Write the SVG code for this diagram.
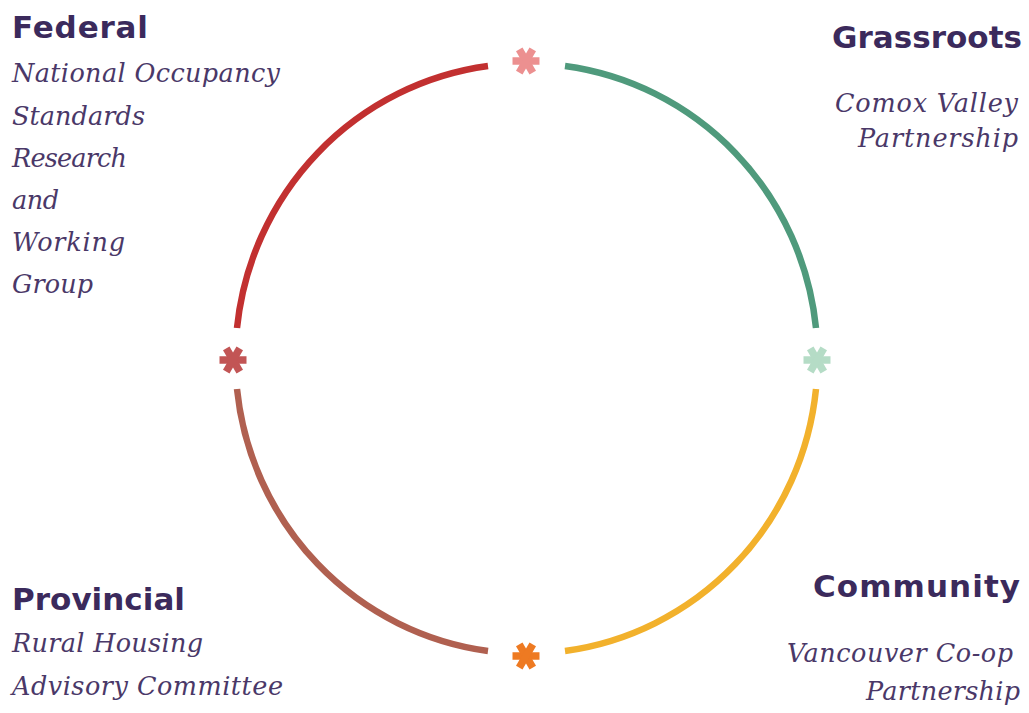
<svg xmlns="http://www.w3.org/2000/svg" width="1029" height="713" viewBox="0 0 1029 713">
<style>
.h{font-family:"DejaVu Sans","Open Sans",sans-serif;font-weight:bold;font-size:31px;fill:#3b2a5c}
.s{font-family:"DejaVu Serif","Liberation Serif",serif;font-style:italic;font-size:25.5px;fill:#4a3868}
.arc{fill:none;stroke-width:6.5;stroke-linecap:butt}
.ast{stroke-width:7.5;stroke-linecap:butt}
</style>
<defs>
<g id="star">
<line x1="-13.5" y1="0" x2="13.5" y2="0"/>
<line x1="-6.75" y1="-11.7" x2="6.75" y2="11.7"/>
<line x1="6.75" y1="-11.7" x2="-6.75" y2="11.7"/>
</g>
</defs>
<rect width="1029" height="713" fill="#ffffff"/>
<g id="connectors">
<path class="arc" stroke="#c23030" d="M237,328 A291,295 0 0 1 488,66"/>
<path class="arc" stroke="#4f9a7c" d="M565,66 A291,295 0 0 1 816,328"/>
<path class="arc" stroke="#f2b12c" d="M816,389 A291,295 0 0 1 565,651"/>
<path class="arc" stroke="#b06050" d="M488,651 A291,295 0 0 1 237,389"/>
</g>
<g id="marker-top" class="ast" stroke="#ec9090"><use href="#star" x="526" y="61"/></g>
<g id="marker-left" class="ast" stroke="#c25555"><use href="#star" x="233" y="360"/></g>
<g id="marker-right" class="ast" stroke="#b5dcc6"><use href="#star" x="817" y="360"/></g>
<g id="marker-bottom" class="ast" stroke="#ee7a22"><use href="#star" x="526" y="656"/></g>
<g id="federal">
<text class="h" x="12" y="38" textLength="136">Federal</text>
<text class="s" x="12" y="82" textLength="268">National Occupancy</text>
<text class="s" x="12" y="125" textLength="133">Standards</text>
<text class="s" x="12" y="167" textLength="115">Research</text>
<text class="s" x="12" y="209" textLength="47">and</text>
<text class="s" x="12" y="251" textLength="113">Working</text>
<text class="s" x="12" y="293" textLength="81">Group</text>
</g>
<g id="grassroots">
<text class="h" x="832" y="48" textLength="190">Grassroots</text>
<text class="s" x="835" y="112" textLength="183">Comox Valley</text>
<text class="s" x="858" y="147" textLength="160">Partnership</text>
</g>
<g id="community">
<text class="h" x="813" y="597" textLength="207">Community</text>
<text class="s" x="787" y="662" textLength="226">Vancouver Co-op</text>
<text class="s" x="866" y="700" textLength="154">Partnership</text>
</g>
<g id="provincial">
<text class="h" x="12" y="610" textLength="173">Provincial</text>
<text class="s" x="12" y="652" textLength="191">Rural Housing</text>
<text class="s" x="12" y="695" textLength="271">Advisory Committee</text>
</g>
</svg>
